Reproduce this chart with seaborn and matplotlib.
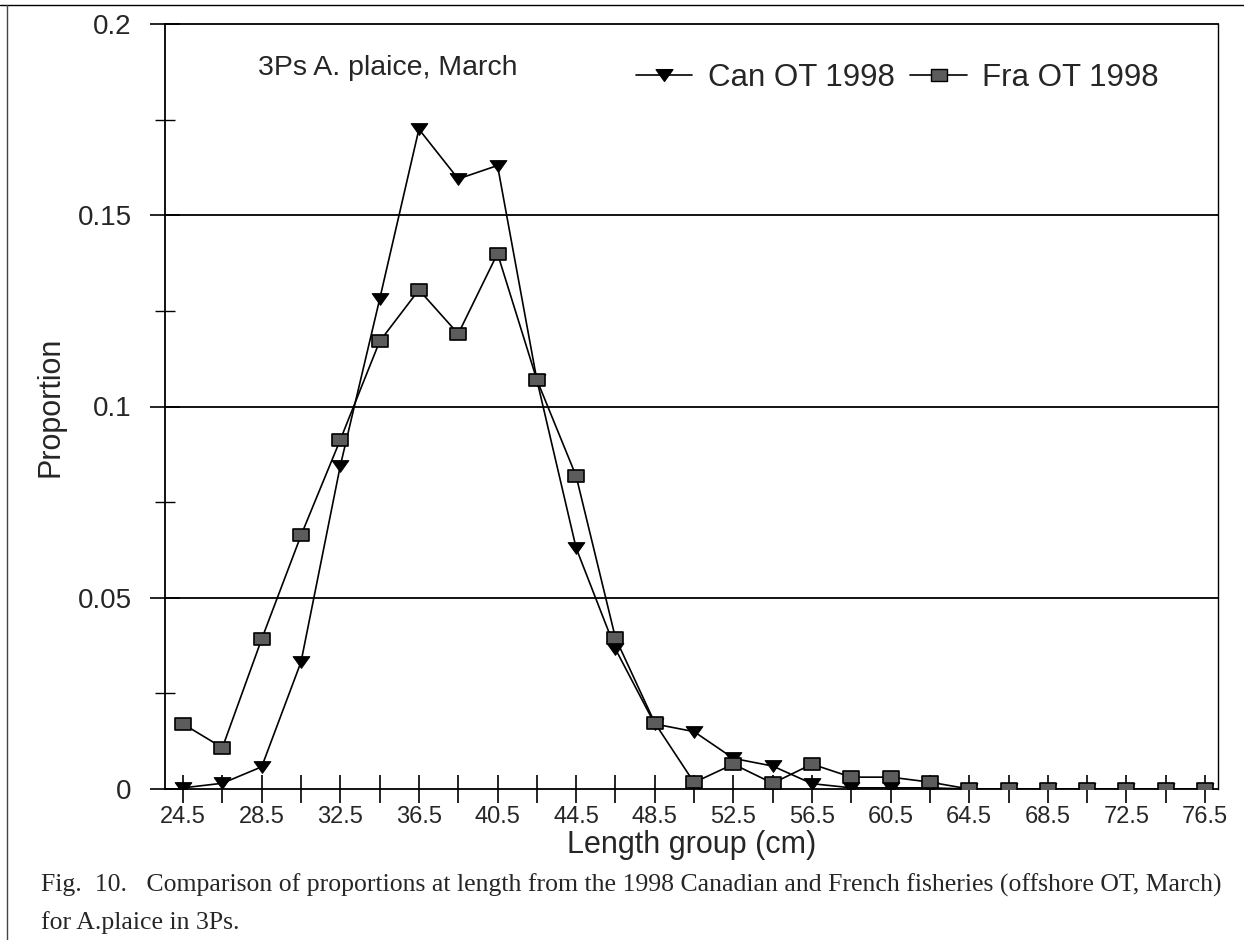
import matplotlib
matplotlib.use("Agg")
import matplotlib.pyplot as plt
from matplotlib.path import Path
from matplotlib.lines import Line2D
import seaborn as sns
import pandas as pd

# ---- data ----
lengths = [24.5, 26.5, 28.5, 30.5, 32.5, 34.5, 36.5, 38.5, 40.5, 42.5, 44.5, 46.5,
           48.5, 50.5, 52.5, 54.5, 56.5, 58.5, 60.5, 62.5, 64.5, 66.5, 68.5, 70.5,
           72.5, 74.5, 76.5]
can_ot_1998 = [0.0003, 0.0015, 0.0058, 0.0332, 0.0845, 0.128, 0.1725, 0.1595, 0.163,
               0.107, 0.063, 0.0366, 0.017, 0.015, 0.008, 0.006, 0.0014, 0.0003,
               0.0003, 0.0003, 0.0, 0.0, 0.0, 0.0, 0.0, 0.0, 0.0]
fra_ot_1998 = [0.017, 0.0108, 0.0392, 0.0663, 0.0913, 0.117, 0.1305, 0.119, 0.140,
               0.107, 0.0818, 0.0395, 0.0173, 0.0017, 0.0065, 0.0015, 0.0065, 0.0031,
               0.0031, 0.0018, 0.0, 0.0, 0.0, 0.0, 0.0, 0.0, 0.0]
series_names = ["Can OT 1998", "Fra OT 1998"]
y_ticks = [0, 0.05, 0.1, 0.15, 0.2]
y_tick_labels = ["0", "0.05", "0.1", "0.15", "0.2"]
x_label_values = lengths[::2]
annotation = "3Ps A. plaice, March"
x_title = "Length group (cm)"
y_title = "Proportion"
caption1 = "Fig.  10.   Comparison of proportions at length from the 1998 Canadian and French fisheries (offshore OT, March)"
caption2 = "for A.plaice in 3Ps."

sns.set_style("white")
plt.rcParams["font.family"] = ["Liberation Sans", "DejaVu Sans"]

fig = plt.figure(figsize=(12.44, 9.40), dpi=100)
ax = fig.add_axes([165/1244, 1-789/940, (1218-165)/1244, (789-24)/940])

tri = Path([(-1, 0.7), (1, 0.7), (0, -0.7), (-1, 0.7)],
           [Path.MOVETO, Path.LINETO, Path.LINETO, Path.CLOSEPOLY])
rect = Path([(-1, -0.75), (1, -0.75), (1, 0.75), (-1, 0.75), (-1, -0.75)],
            [Path.MOVETO, Path.LINETO, Path.LINETO, Path.LINETO, Path.CLOSEPOLY])
square_fill = "#5c5c5c"

df_can = pd.DataFrame({"length": lengths, "prop": can_ot_1998})
df_fra = pd.DataFrame({"length": lengths, "prop": fra_ot_1998})

sns.lineplot(data=df_can, x="length", y="prop", ax=ax, color="black", lw=1.2,
             marker=tri, markersize=12, markerfacecolor="black",
             markeredgecolor="black", zorder=3, legend=False)
sns.lineplot(data=df_fra, x="length", y="prop", ax=ax, color="black", lw=1.2,
             marker=rect, markersize=12, markerfacecolor=square_fill,
             markeredgecolor="black", markeredgewidth=1.2, zorder=4, legend=False)

# gridlines
for yv in y_ticks[1:-1]:
    ax.axhline(yv, color="black", lw=1.3, zorder=1)

ax.set_xlim(lengths[0] - 0.92, lengths[-1] + 0.66)
ax.set_ylim(0, 0.2)
ax.set_xticks(lengths)
ax.set_xticklabels([f"{v:.1f}" if v in x_label_values else "" for v in lengths], fontsize=17)
ax.set_yticks(y_ticks)
ax.set_yticklabels(y_tick_labels, fontsize=20)
ax.set_yticks([0.025, 0.075, 0.125, 0.175], minor=True)
ax.tick_params(axis="x", which="major", direction="inout", length=20, width=1.2,
               color="black", pad=2, bottom=True)
ax.tick_params(axis="y", which="major", direction="inout", length=22, width=1.2,
               color="black", pad=13, left=True)
ax.tick_params(axis="y", which="minor", direction="inout", length=14, width=1.0,
               color="black", left=True)
for s in ax.spines.values():
    s.set_color("black")
    s.set_linewidth(1.3)
ax.spines["right"].set_linewidth(1.0)

ax.set_xlabel(x_title, fontsize=22, labelpad=2)
ax.set_ylabel(y_title, fontsize=22, labelpad=9)

fig.text(258/1244, 1-75/940, annotation, fontsize=20.5, va="baseline", ha="left")

handles = [
    Line2D([], [], color="black", lw=1.2, marker=tri, markersize=12,
           markerfacecolor="black", markeredgecolor="black"),
    Line2D([], [], color="black", lw=1.2, marker=rect, markersize=12,
           markerfacecolor=square_fill, markeredgecolor="black"),
]
fig.legend(handles, series_names, loc="center left",
           bbox_to_anchor=(636/1244, 1-78/940), ncol=2, frameon=False,
           fontsize=22.5, handlelength=1.8, handletextpad=0.5, columnspacing=0.5,
           borderpad=0, borderaxespad=0)

serif = ["Liberation Serif", "DejaVu Serif"]
fig.text(41/1244, 1-892/940, caption1, fontsize=18.5, family=serif, ha="left", va="baseline")
fig.text(41/1244, 1-929/940, caption2, fontsize=18.5, family=serif, ha="left", va="baseline")

# page frame lines
fig.add_artist(Line2D([0, 1], [1-5/940, 1-5/940], color="black", lw=1.0,
                      transform=fig.transFigure))
fig.add_artist(Line2D([7/1244, 7/1244], [0, 1-5/940], color="#444444", lw=1.0,
                      transform=fig.transFigure))

fig.savefig("out.png", dpi=100)
